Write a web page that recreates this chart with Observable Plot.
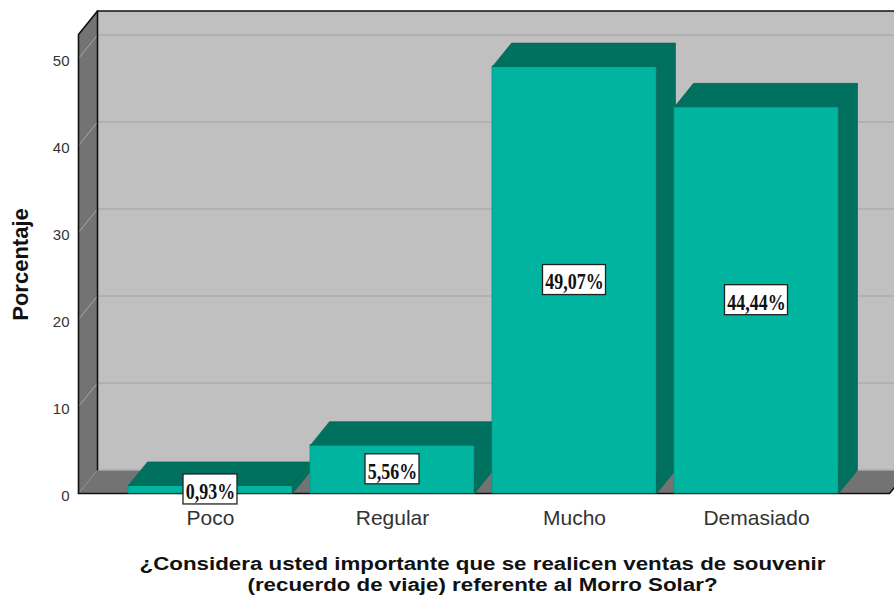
<!DOCTYPE html>
<html>
<head>
<meta charset="utf-8">
<script src="https://cdn.jsdelivr.net/npm/d3@7"></script>
<script src="https://cdn.jsdelivr.net/npm/@observablehq/plot@0.6"></script>
<style>
  html, body { margin: 0; padding: 0; background: white; }
</style>
</head>
<body>
<script>
// ---- data ----
const categories = ["Poco", "Regular", "Mucho", "Demasiado"];
const percents = [0.93, 5.56, 49.07, 44.44];
const valueLabels = ["0,93%", "5,56%", "49,07%", "44,44%"];
const yTicks = [0, 10, 20, 30, 40, 50];
const yTitle = "Porcentaje";
const xTitle = "¿Considera usted importante que se realicen ventas de souvenir\n(recuerdo de viaje) referente al Morro Solar?";

const bars = categories.map((c, i) => ({i, c, v: percents[i], label: valueLabels[i]}));

// ---- layout (scale geometry) ----
const W = 894, H = 599;
const xDomain = [-0.5, 3.5], xRange = [119, 847];
const yDomain = [0, 50], yRange = [493, 58];
const pxX = (xRange[1] - xRange[0]) / (xDomain[1] - xDomain[0]);
const pxY = (yRange[0] - yRange[1]) / (yDomain[1] - yDomain[0]);
const DX = 19 / pxX, DY = 23.5 / pxY;      // 3D depth offset
const HALF = 82 / pxX;                       // bar half-width
const L = xDomain[0] - 41 / pxX;             // front plane left
const R = xDomain[1] + 42 / pxX;             // front plane right
const T = yDomain[1] + 24 / pxY;             // front plane top

const poly = (id, pts) => pts.map(([x, y]) => ({id, x, y}));

const FRONT = "#00b4a0", DARK = "#00705f", DARK_EDGE = "#005f50";
const WALL = "#737373", BACK = "#c0c0c0";

const backWall = poly("back", [[L + DX, DY], [R + DX, DY], [R + DX, T + DY], [L + DX, T + DY]]);
const leftWall = poly("left", [[L, 0], [L, T], [L + DX, T + DY], [L + DX, DY]]);
const floor = poly("floor", [[L, 0], [R, 0], [R + DX, DY], [L + DX, DY]]);
const outlines = [
  ...poly("o1", [[L, 0], [L, T], [L + DX, T + DY], [R + DX, T + DY]]),
  ...poly("o2", [[L + DX, T + DY], [L + DX, DY]]),
  ...poly("o3", [[L, 0], [R, 0], [R + DX, DY]])
];

const barMarks = bars.flatMap(b => {
  const x0 = b.i - HALF, x1 = b.i + HALF, v = b.v;
  const top = poly("top" + b.i, [[x0, v], [x1, v], [x1 + DX, v + DY], [x0 + DX, v + DY], [x0, v]]);
  const side = poly("side" + b.i, [[x1, 0], [x1, v], [x1 + DX, v + DY], [x1 + DX, DY], [x1, 0]]);
  return [
    Plot.rect([b], {x1: d => d.i - HALF, x2: d => d.i + HALF, y1: 0, y2: "v", fill: FRONT, stroke: "#009a88", strokeWidth: 0.8}),
    Plot.line(top, {x: "x", y: "y", z: "id", fill: DARK, stroke: DARK_EDGE, strokeWidth: 0.6, curve: "linear"}),
    Plot.line(side, {x: "x", y: "y", z: "id", fill: DARK, stroke: DARK_EDGE, strokeWidth: 0.6, curve: "linear"})
  ];
});

const boxW = d => 9 * d.label.length + 9;

const chart = Plot.plot({
  width: W,
  height: H,
  marginTop: 0, marginRight: 0, marginBottom: 0, marginLeft: 0,
  x: {type: "linear", domain: xDomain, range: xRange, axis: null},
  y: {type: "linear", domain: yDomain, range: yRange, axis: null},
  style: {fontFamily: "Liberation Sans, Arial, sans-serif", background: "white", overflow: "visible"},
  marks: [
    Plot.line(backWall, {x: "x", y: "y", z: "id", fill: BACK, stroke: "none"}),
    Plot.line(leftWall, {x: "x", y: "y", z: "id", fill: WALL, stroke: "none"}),
    Plot.line(floor, {x: "x", y: "y", z: "id", fill: WALL, stroke: "none"}),
    Plot.link(yTicks, {x1: L + DX, x2: R + DX, y1: d => d + DY, y2: d => d + DY, stroke: "#adadad", strokeWidth: 1.5}),
    Plot.link(yTicks.filter(t => t > 0), {x1: L, x2: L + DX, y1: d => d, y2: d => d + DY, stroke: "#a8a8a8", strokeWidth: 1}),
    Plot.line(outlines, {x: "x", y: "y", z: "id", stroke: "#111", strokeWidth: 1.6}),
    ...barMarks,
    Plot.rect(bars, {
      x1: d => d.i - boxW(d) / 2 / pxX, x2: d => d.i + boxW(d) / 2 / pxX,
      y1: d => d.v / 2 - 15 / pxY, y2: d => d.v / 2 + 15 / pxY,
      fill: "white", stroke: "#222", strokeWidth: 1.3
    }),
    Plot.text(bars, {x: "i", y: d => d.v / 2, text: "label", dy: 2, fontFamily: "Liberation Serif", fontWeight: "bold", fontSize: 23, fill: "#111"}),
    Plot.text(bars, {x: "i", y: 0, text: "c", dy: 25, fontSize: 21, fill: "#333"}),
    Plot.text(yTicks, {x: L, y: d => d, text: d => String(d), dx: -9, dy: 3, textAnchor: "end", fontSize: 15, fill: "#333"}),
    Plot.text([yTitle], {frameAnchor: "top-left", dx: 20, dy: 264, rotate: -90, textAnchor: "middle", lineAnchor: "middle", fontSize: 22, fontWeight: "bold", fill: "#111"}),
    Plot.text([xTitle], {frameAnchor: "top-left", dx: 482, dy: 573, textAnchor: "middle", lineAnchor: "middle", fontSize: 18, fontWeight: "bold", lineHeight: 1.2, fill: "#111"})
  ]
});

document.body.append(chart);

// condense the bold serif value labels like the original
chart.querySelectorAll('g[font-family="Liberation Serif"] text').forEach(t => {
  const w = t.getComputedTextLength();
  t.setAttribute("textLength", (w * 0.78).toFixed(1));
  t.setAttribute("lengthAdjust", "spacingAndGlyphs");
});
// widen the axis title lines like the original
chart.querySelectorAll('g[font-size="18"] text tspan').forEach(t => {
  const w = t.getComputedTextLength();
  t.setAttribute("textLength", (w * 1.24).toFixed(1));
  t.setAttribute("lengthAdjust", "spacingAndGlyphs");
});
</script>
</body>
</html>
